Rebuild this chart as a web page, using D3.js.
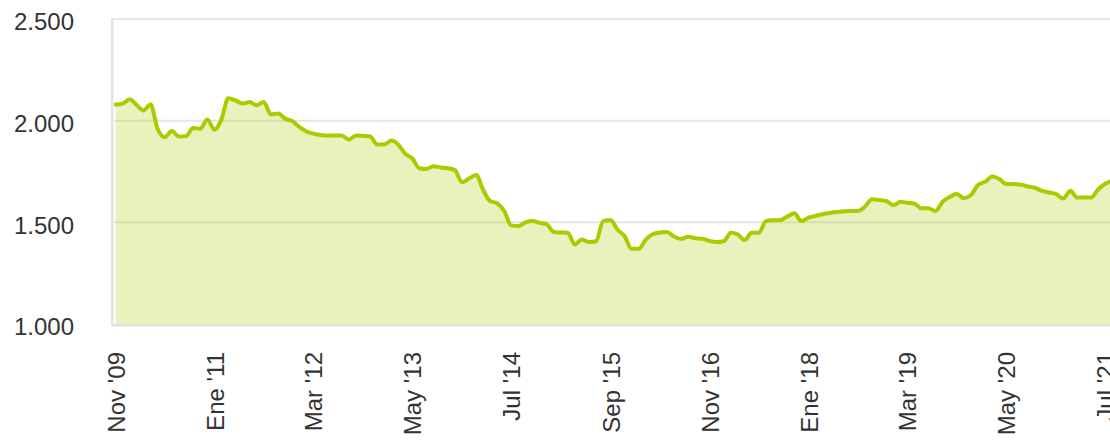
<!DOCTYPE html>
<html>
<head>
<meta charset="utf-8">
<script src="https://cdn.jsdelivr.net/npm/d3@7"></script>
<style>
  html, body { margin: 0; padding: 0; background: #fff; overflow: hidden; }
  svg { display: block; }
  text { font-family: "Liberation Sans", Arial, sans-serif; fill: #333; }
</style>
</head>
<body>
<svg id="chart" width="1110" height="441"></svg>
<script>
// ---- Data (monthly, starting Nov 2009) ----
const startMonth = [2009, 10]; // year, month index (0-based): Nov 2009
const values = [
  2079, 2083, 2105, 2076, 2050, 2079, 1960, 1919, 1949, 1922,
  1924, 1964, 1960, 2006, 1955, 2010, 2110, 2100, 2084, 2092,
  2076, 2092, 2030, 2035, 2010, 1998, 1969, 1947, 1936, 1930,
  1927, 1927, 1927, 1907, 1927, 1925, 1922, 1883, 1883, 1902,
  1883, 1837, 1815, 1766, 1762, 1776, 1770, 1766, 1757, 1697,
  1716, 1733, 1663, 1605, 1594, 1556, 1485, 1482, 1500, 1506,
  1498, 1490, 1452, 1450, 1449, 1391, 1416, 1403, 1407, 1506,
  1511, 1465, 1432, 1370, 1370, 1416, 1441, 1450, 1452, 1430,
  1419, 1429, 1422, 1419, 1408, 1403, 1407, 1449, 1441, 1413,
  1449, 1449, 1506, 1510, 1511, 1528, 1545, 1506, 1523, 1532,
  1540, 1546, 1551, 1554, 1556, 1556, 1578, 1614, 1610, 1605,
  1584, 1601, 1596, 1593, 1569, 1569, 1556, 1601, 1625, 1639,
  1619, 1634, 1685, 1700, 1726, 1713, 1688, 1688, 1686, 1676,
  1670, 1655, 1647, 1639, 1617, 1655, 1622, 1622, 1622, 1663,
  1690, 1705
];
const tickLabels = ["Nov '09", "Ene '11", "Mar '12", "May '13", "Jul '14", "Sep '15",
                    "Nov '16", "Ene '18", "Mar '19", "May '20", "Jul '21"];
const tickMonthStep = 14;
const yTicks = [1000, 1500, 2000, 2500];

// ---- Build ----
const data = values.map((v, i) => ({ date: new Date(startMonth[0], startMonth[1] + i, 1), value: v }));
const tickDates = tickLabels.map((_, k) => new Date(startMonth[0], startMonth[1] + k * tickMonthStep, 1));

const svg = d3.select("#chart");
const plotLeft = 112, plotTop = 19, plotBottom = 324, plotRight = 1130;

const x = d3.scaleTime()
  .domain([tickDates[0], tickDates[tickDates.length - 1]])
  .range([115.5, 1105.3]);
const y = d3.scaleLinear().domain([1000, 2500]).range([plotBottom, plotTop]);

const fmt = d3.formatLocale({ decimal: ",", thousands: ".", grouping: [3], currency: ["", "€"] }).format(",.0f");

// gridlines
svg.append("g")
  .selectAll("line")
  .data(yTicks.filter(t => t > 1000))
  .join("line")
  .attr("x1", plotLeft).attr("x2", plotRight)
  .attr("y1", d => y(d)).attr("y2", d => y(d))
  .attr("stroke", "#e6e6e6").attr("stroke-width", 2);

// area
const area = d3.area()
  .x(d => x(d.date))
  .y0(y(1000))
  .y1(d => y(d.value))
  .curve(d3.curveMonotoneX);
svg.append("path")
  .datum(data)
  .attr("d", area)
  .attr("fill", "rgba(168,205,0,0.26)");

// line
const line = d3.line()
  .x(d => x(d.date))
  .y(d => y(d.value))
  .curve(d3.curveMonotoneX);
svg.append("path")
  .datum(data)
  .attr("d", line)
  .attr("fill", "none")
  .attr("stroke", "#a8cc00")
  .attr("stroke-width", 4)
  .attr("stroke-linejoin", "round")
  .attr("stroke-linecap", "round");

// plot border (left and bottom) with soft shadow
svg.append("line").attr("x1", plotLeft + 1.5).attr("x2", plotLeft + 1.5)
  .attr("y1", plotTop).attr("y2", plotBottom + 3).attr("stroke", "#f0f0f0").attr("stroke-width", 1);
svg.append("line").attr("x1", plotLeft).attr("x2", plotRight)
  .attr("y1", plotBottom + 2.5).attr("y2", plotBottom + 2.5).attr("stroke", "#f0f0f0").attr("stroke-width", 1);
svg.append("line").attr("x1", plotLeft).attr("x2", plotLeft)
  .attr("y1", plotTop - 1).attr("y2", plotBottom + 1).attr("stroke", "#e2e2e2").attr("stroke-width", 2);
svg.append("line").attr("x1", plotLeft - 1).attr("x2", plotRight)
  .attr("y1", plotBottom + 1).attr("y2", plotBottom + 1).attr("stroke", "#e2e2e2").attr("stroke-width", 2);

// y axis labels
const yAxis = d3.axisLeft(y).tickValues(yTicks).tickFormat(fmt).tickSize(0).tickPadding(0);
const gy = svg.append("g").attr("transform", "translate(74,3)").call(yAxis);
gy.select(".domain").remove();
gy.selectAll("text").attr("font-size", 24).attr("fill", "#333")
  .style("font-family", '"Liberation Sans", Arial, sans-serif');

// x axis labels (rotated, top-aligned just under the plot)
const xAxis = d3.axisBottom(x).tickValues(tickDates).tickFormat((d, i) => tickLabels[i]).tickSize(0).tickPadding(0);
const gx = svg.append("g").attr("transform", "translate(0,352)").call(xAxis);
gx.select(".domain").remove();
gx.selectAll("text")
  .attr("font-size", 24).attr("fill", "#333")
  .style("font-family", '"Liberation Sans", Arial, sans-serif')
  .attr("text-anchor", "end")
  .attr("transform", "rotate(-90)")
  .attr("x", 0).attr("y", 0).attr("dx", 0).attr("dy", "0.36em");
</script>
</body>
</html>
